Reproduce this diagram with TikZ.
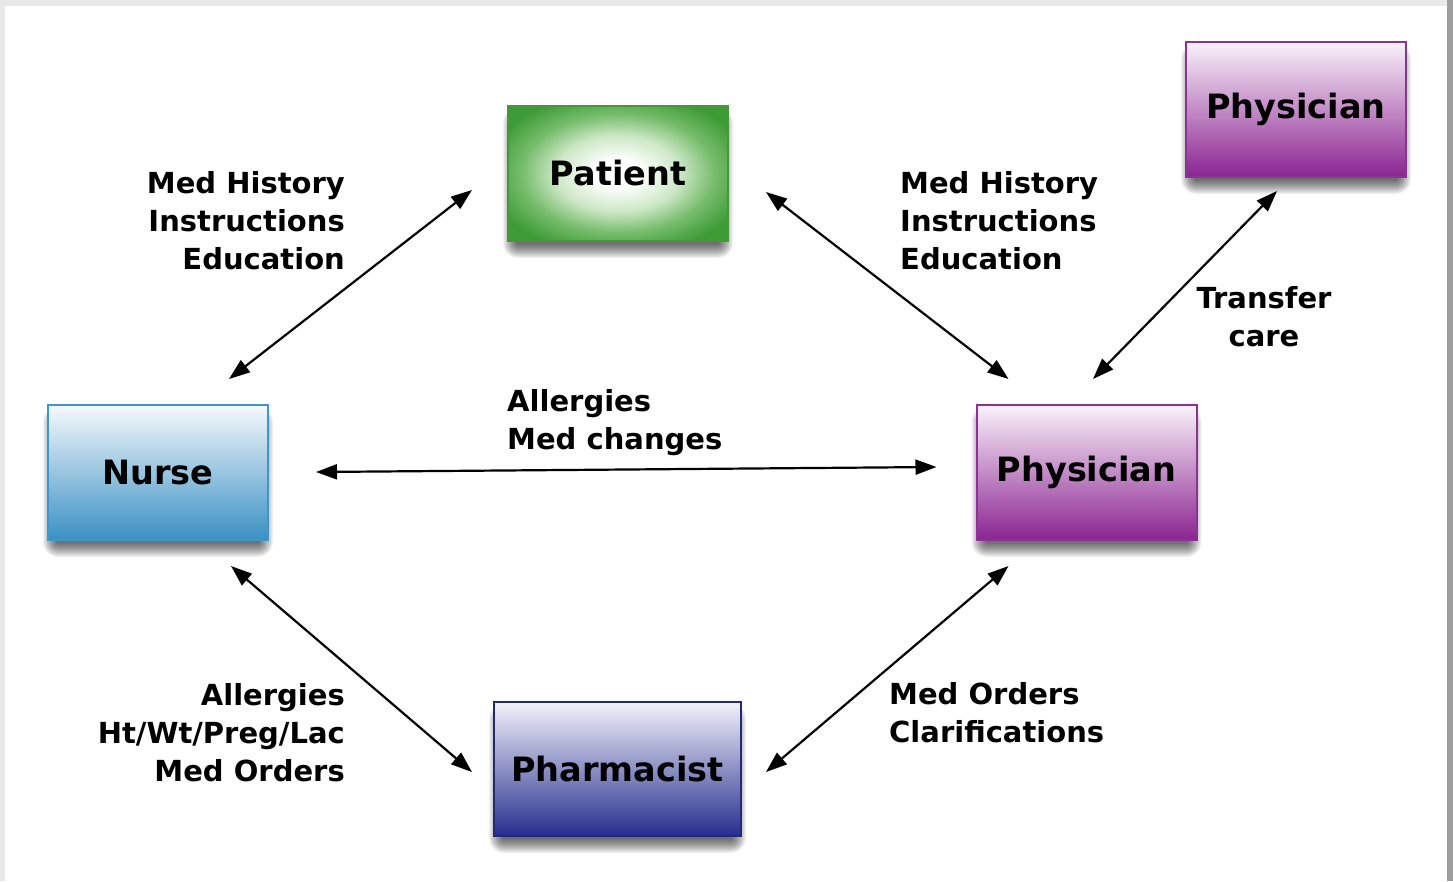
\documentclass[tikz,border=0pt]{standalone}
\usepackage{fontspec}
\setmainfont{DejaVu Sans}
\usetikzlibrary{arrows.meta}

\pgfdeclarelayer{bg}
\pgfsetlayers{bg,main}

% box colours
\definecolor{ptgreen}{RGB}{62,156,54}
\definecolor{ptlight}{RGB}{205,232,198}
\definecolor{ptmid}{RGB}{118,188,108}
\definecolor{ptedge}{RGB}{70,150,60}
\definecolor{nstop}{RGB}{246,249,252}
\definecolor{nsmid}{RGB}{165,208,230}
\definecolor{nsbot}{RGB}{58,144,196}
\definecolor{nsedge}{RGB}{64,150,200}
\definecolor{phtop}{RGB}{250,242,250}
\definecolor{phmid}{RGB}{205,148,210}
\definecolor{phbot}{RGB}{138,36,145}
\definecolor{phedge}{RGB}{140,50,148}
\definecolor{patop}{RGB}{242,242,250}
\definecolor{pamid}{RGB}{145,150,208}
\definecolor{pabot}{RGB}{38,46,142}
\definecolor{paedge}{RGB}{36,40,120}

\pgfdeclareradialshading{patientglow}{\pgfpoint{0bp}{0bp}}{%
  color(0bp)=(white); color(5bp)=(white); color(14bp)=(ptlight);
  color(22bp)=(ptmid); color(30bp)=(ptgreen); color(50bp)=(ptgreen)}

\tikzset{
  box/.style={draw, line width=2pt, minimum width=220pt, minimum height=135pt,
    inner sep=0pt, font=\fontsize{33.5}{40}\selectfont\bfseries},
  lbl/.style={inner sep=0pt, font=\fontsize{29}{38}\selectfont\bfseries},
  link/.style={line width=2.2pt,
    {Triangle[length=21pt,width=15pt]}-{Triangle[length=21pt,width=15pt]}},
}

% soft drop shadow under a node
\newcommand\boxshadow[1]{%
  \foreach \e [evaluate=\e as \rr using {max(\e+8,1)}] in {-7,...,7}
    \fill[black, opacity=0.05, rounded corners=\rr pt]
      ([shift={(3-\e,10-\e)}]#1.north west) rectangle
      ([shift={(-3+\e,9+\e)}]#1.south east);}

\begin{document}
\begin{tikzpicture}[x=1pt,y=-1pt]
\useasboundingbox (0,0) rectangle (1453,881);

% boxes
\node[box, draw=ptedge, shading=patientglow] (patient) at (618,173.5) {Patient};
\node[box, draw=nsedge, top color=nstop, middle color=nsmid, bottom color=nsbot]
  (nurse) at (158,472.5) {Nurse};
\node[box, draw=phedge, top color=phtop, middle color=phmid, bottom color=phbot]
  (phys) at (1086.5,472.5) {Physician};
\node[box, draw=phedge, top color=phtop, middle color=phmid, bottom color=phbot]
  (phystop) at (1296,109.5) {Physician};
\node[box, draw=paedge, minimum width=247pt, minimum height=134pt,
  top color=patop, middle color=pamid, bottom color=pabot]
  (pharm) at (617.5,769) {Pharmacist};

% labels
\node[lbl, anchor=east, align=right] (l1) at (345,223.4)
  {\strut Med History\\\strut Instructions\\\strut Education};
\node[lbl, anchor=west, align=left] (l2) at (900,223.4)
  {\strut Med History\\\strut Instructions\\\strut Education};
\node[lbl, anchor=center, align=center] (l3) at (1264,320)
  {\strut Transfer\\\strut care};
\node[lbl, anchor=west, align=left] (l4) at (507,423)
  {\strut Allergies\\\strut Med changes};
\node[lbl, anchor=east, align=right] (l5) at (345,735.4)
  {\strut Allergies\\\strut Ht/Wt/Preg/Lac\\\strut Med Orders};
\node[lbl, anchor=west, align=left] (l6) at (889,715.4)
  {\strut Med Orders\\\strut Clarifications};

% connectors
\draw[link] ([shift={(-40,-25)}]nurse.north east) -- ([shift={(-35,-52)}]patient.south west);
\draw[link] ([shift={(37,-50)}]patient.south east) -- ([shift={(33,-25)}]phys.north west);
\draw[link] ([shift={(6.5,-25)}]phys.north) -- ([shift={(-19,13)}]phystop.south);
\draw[link] ([shift={(47,-0.5)}]nurse.east) -- ([shift={(-39,-5.5)}]phys.west);
\draw[link] ([shift={(-38,25)}]nurse.south east) -- ([shift={(-21,71)}]pharm.north west);
\draw[link] ([shift={(24,71)}]pharm.north east) -- ([shift={(33,25)}]phys.south west);

% page frame and shadows
\begin{pgfonlayer}{bg}
  \fill[black!9] (0,0) rectangle (1453,881);
  \fill[white] (5,6) rectangle (1447,881);
  \fill[black!38] (1447,0) rectangle (1453,881);
  \boxshadow{patient}
  \boxshadow{nurse}
  \boxshadow{phys}
  \boxshadow{phystop}
  \boxshadow{pharm}
\end{pgfonlayer}
\end{tikzpicture}
\end{document}
